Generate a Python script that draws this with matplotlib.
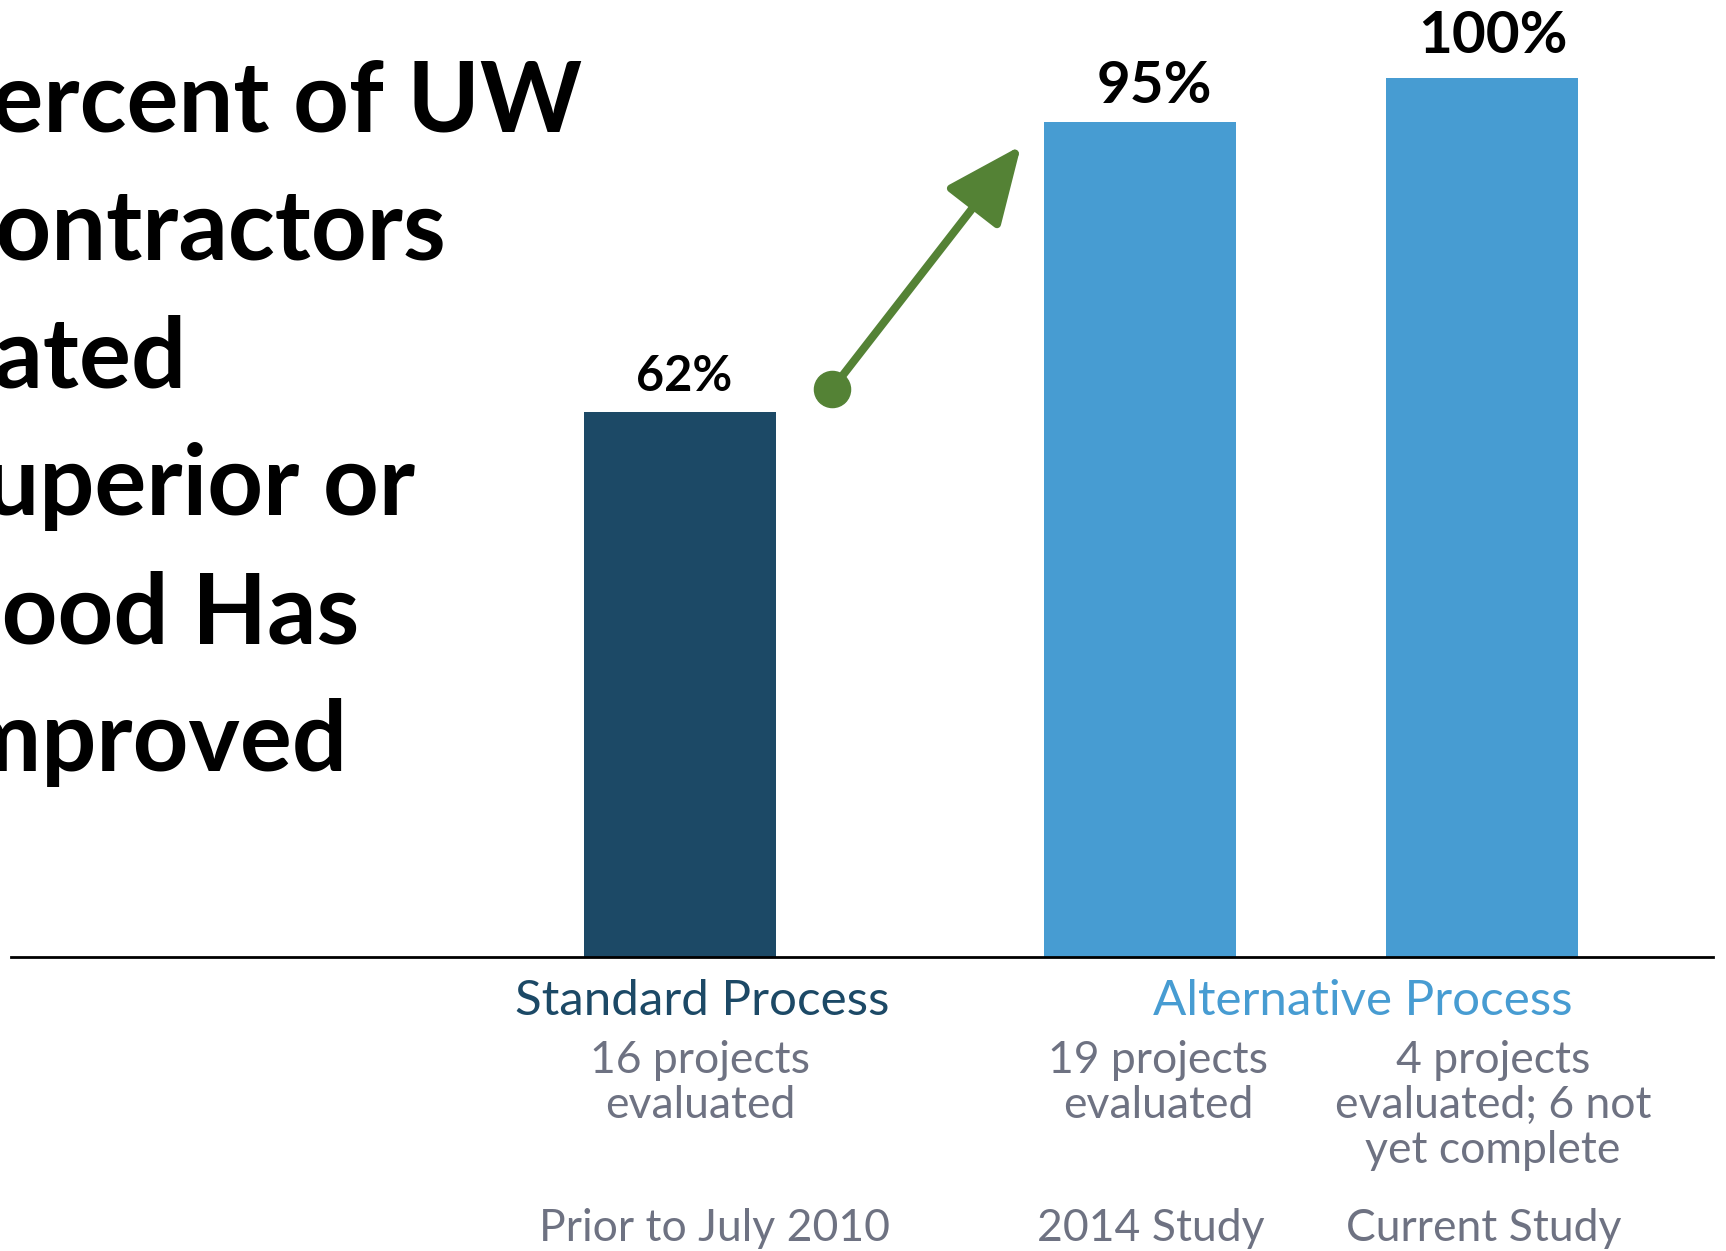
import matplotlib.pyplot as plt

# data
values = [62, 95, 100]
value_labels = ['62%', '95%', '100%']
bar_colors = ['#1c4966', '#479cd2', '#479cd2']
group_names = ['Standard Process', 'Alternative Process']
group_colors = ['#1c4966', '#479cd2']
counts = ['16 projects\nevaluated', '19 projects\nevaluated', '4 projects\nevaluated; 6 not\nyet complete']
periods = ['Prior to July 2010', '2014 Study', 'Current Study']
title_lines = ['Percent of UW', 'Contractors', 'Rated', 'Superior or', 'Good Has', 'Improved']

W, H = 1726, 1251
plt.rcParams['font.family'] = ['Lato', 'DejaVu Sans']

fig = plt.figure(figsize=(W / 100, H / 100), dpi=100)
fig.patch.set_facecolor('white')

# axes laid out so that x data units == figure pixels
base_y = 957
top_y = 78
ax = fig.add_axes([11 / W, (H - base_y) / H, 1702 / W, (base_y - top_y) / H])
ax.set_xlim(11, 1713)
ax.set_ylim(0, 100)
ax.axis('off')

bar_x = [680, 1140, 1482]
ax.bar(bar_x, values, width=192, color=bar_colors, zorder=2)
ax.axhline(0, color='black', lw=2, zorder=3, clip_on=False)

label_sizes = [35, 42, 42]
label_off = [(3, 15), (10, 14), (8, 18)]
for x, v, lab, s, o in zip(bar_x, values, value_labels, label_sizes, label_off):
    ax.annotate(lab, (x, v), xytext=o, textcoords='offset points',
                ha='center', va='baseline', fontsize=s, fontweight='bold',
                color='black', annotation_clip=False)

# green arrow between standard and alternative
ax.annotate('', xy=(1021, 92.3), xytext=(832, 64.6),
            arrowprops=dict(arrowstyle='-|>,head_length=2.4,head_width=1.05',
                            mutation_scale=20, lw=5.8, color='#548235',
                            shrinkA=0, shrinkB=0), annotation_clip=False)
ax.plot([832], [64.6], marker='o', ms=26, color='#548235', clip_on=False, zorder=4)


def px(x, y):
    return x / W, 1 - y / H


# title, cut off at the left edge (as in the original slide)
for i, line in enumerate(title_lines):
    fig.text(*px(-69, 132 + i * 127.8), line, fontsize=70, fontweight='bold',
             color='black', ha='left', va='baseline')

# group headers
group_x = [702, 1363]
for gx, name, c in zip(group_x, group_names, group_colors):
    fig.text(*px(gx, 1015), name, fontsize=35.5, color=c, ha='center', va='baseline')

grey = '#6e7282'
count_x = [700, 1158, 1493]
for cx, txt in zip(count_x, counts):
    for j, line in enumerate(txt.split('\n')):
        fig.text(*px(cx, 1073 + j * 45), line, fontsize=32, color=grey,
                 ha='center', va='baseline')

period_x = [714, 1151, 1484]
for pxx, txt in zip(period_x, periods):
    fig.text(*px(pxx, 1241), txt, fontsize=32, color=grey, ha='center', va='baseline')

fig.savefig('out.png', dpi=100)
